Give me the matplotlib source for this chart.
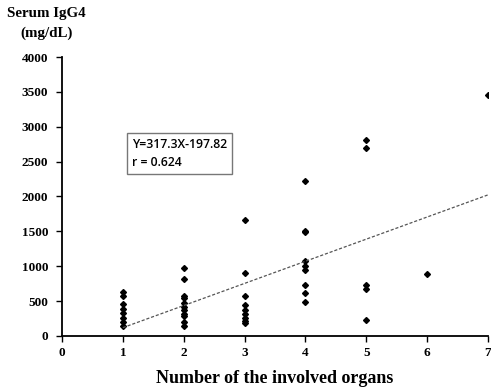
import numpy as np
import matplotlib.pyplot as plt

# serum IgG4 (mg/dL) by number of involved organs
organs_1 = [630, 575, 460, 380, 330, 260, 200, 145]
organs_2 = [980, 810, 580, 540, 480, 420, 370, 320, 280, 200, 150]
organs_3 = [1660, 900, 570, 450, 370, 310, 260, 220, 180]
organs_4 = [2220, 1510, 1490, 1080, 1000, 940, 730, 610, 490]
organs_5 = [2810, 2690, 730, 680, 230]
organs_6 = [890]
organs_7 = [3460]
groups = [organs_1, organs_2, organs_3, organs_4, organs_5, organs_6, organs_7]

slope = 317.3
intercept = -197.82
r_value = 0.624

x = np.concatenate([[i + 1] * len(g) for i, g in enumerate(groups)])
y = np.concatenate(groups)

plt.rcParams['font.family'] = ['Liberation Serif', 'DejaVu Serif']

fig = plt.figure(figsize=(4.91, 3.87), dpi=100)
ax = fig.add_axes([0.1263, 0.1318, 0.8676, 0.7209])

ax.plot(x, y, linestyle='none', marker='D', markersize=3.0, color='black')

lx = np.array([1, 7])
ax.plot(lx, slope * lx + intercept, linestyle=(0, (2.5, 1.5)), color='#555555', linewidth=0.9)

ax.set_xlim(0, 7)
ax.set_ylim(0, 4000)
ax.set_xticks(range(0, 8))
ax.set_yticks(range(0, 4001, 500))
ax.tick_params(axis='both', labelsize=9.5, direction='out', length=4, width=1)
for lbl in ax.get_xticklabels() + ax.get_yticklabels():
    lbl.set_fontweight('bold')
ax.tick_params(axis='x', pad=4)
ax.tick_params(axis='y', pad=6)

for side in ['top', 'right']:
    ax.spines[side].set_visible(False)
for side in ['left', 'bottom']:
    ax.spines[side].set_linewidth(1.3)

ax.set_xlabel('Number of the involved organs', fontsize=13, fontweight='bold', labelpad=8)
fig.text(0.094, 0.964, 'Serum IgG4', fontsize=10.8, fontweight='bold', ha='center', va='center')
fig.text(0.094, 0.915, '(mg/dL)', fontsize=10.8, fontweight='bold', ha='center', va='center')

ax.text(1.15, 2616, 'Y=%.1fX%.2f\nr = %.3f' % (slope, intercept, r_value),
        fontsize=8.8, family=['Open Sans', 'DejaVu Sans'], fontweight='semibold',
        va='center', ha='left', linespacing=1.45,
        bbox=dict(boxstyle='square,pad=0.4', facecolor='white', edgecolor='#777777', linewidth=1))

fig.savefig('out.png', dpi=100)
